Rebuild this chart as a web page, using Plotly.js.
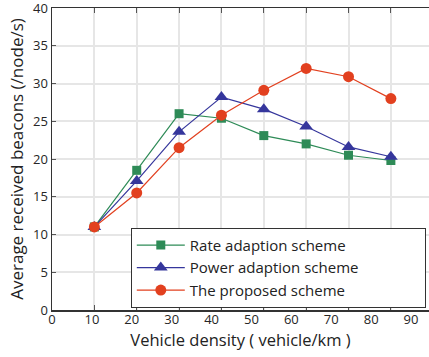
<!DOCTYPE html>
<html><head><meta charset="utf-8">
<script src="https://cdn.plot.ly/plotly-3.0.1.min.js"></script>
<style>html,body{margin:0;padding:0;background:#fff}</style>
</head><body>
<div id="chart" style="width:429px;height:357px"></div>
<script>
const density = [10, 20, 30, 40, 50, 60, 70, 80];
const rateAdaption = [11.0, 18.5, 26.0, 25.4, 23.1, 22.0, 20.5, 19.8];
const powerAdaption = [11.0, 17.1, 23.6, 28.2, 26.6, 24.3, 21.6, 20.3];
const proposed = [11.0, 15.5, 21.5, 25.8, 29.1, 32.0, 30.9, 28.0];
const seriesNames = ['Rate adaption scheme', 'Power adaption scheme', 'The proposed scheme'];
const xLabelValues = [0, 10, 20, 30, 40, 50, 60, 70, 80, 90];
const yTicks = [0, 5, 10, 15, 20, 25, 30, 35, 40];

const font = 'Open Sans, Noto Sans, DejaVu Sans, sans-serif';
function tr(y, name, color, symbol, size) {
  return {x: density, y: y, name: name, type: 'scatter', mode: 'lines+markers',
    line: {color: color, width: 1.2}, marker: {color: color, symbol: symbol, size: size}};
}
const data = [
  tr(rateAdaption, seriesNames[0], '#2e8b57', 'square', 9),
  tr(powerAdaption, seriesNames[1], '#35369c', 'triangle-up', 12),
  tr(proposed, seriesNames[2], '#e2401f', 'circle', 11),
  {x: [], y: [], xaxis: 'x2', yaxis: 'y', type: 'scatter', mode: 'markers', showlegend: false, hoverinfo: 'skip'}
];
const layout = {
  width: 429, height: 357,
  margin: {l: 52, r: 0, t: 8, b: 47},
  paper_bgcolor: '#fff', plot_bgcolor: '#fff',
  font: {family: font, color: '#262626', size: 13},
  showlegend: true,
  legend: {x: 0.209, y: 0.272, xanchor: 'left', yanchor: 'top', orientation: 'h',
    bgcolor: '#fff', bordercolor: '#333', borderwidth: 1,
    font: {family: font, size: 15, color: '#222'}, itemwidth: 48,
    entrywidthmode: 'pixels', entrywidth: 230, tracegroupgap: 0},
  xaxis: {range: [0, 89], tickvals: density, showticklabels: false,
    showgrid: true, gridcolor: '#e6e6e6', gridwidth: 2,
    ticks: 'inside', ticklen: 5, tickcolor: '#555',
    showline: true, linecolor: '#333', linewidth: 1.5, mirror: 'ticks', zeroline: false},
  xaxis2: {overlaying: 'x', anchor: 'y', side: 'bottom', range: [0, 94.5],
    tickvals: xLabelValues, showgrid: false, ticks: '', showline: false, zeroline: false,
    tickfont: {size: 13, color: '#262626'}, ticklabeloverflow: 'allow',
    title: {text: 'Vehicle density ( vehicle/km )', font: {size: 16.5, color: '#222'}, standoff: 6}},
  yaxis: {range: [0, 40], tickvals: yTicks, showgrid: true, gridcolor: '#e6e6e6', gridwidth: 2,
    ticks: 'inside', ticklen: 4, tickcolor: '#555',
    showline: true, linecolor: '#333', linewidth: 1.5, zeroline: false,
    tickfont: {size: 13, color: '#262626'}, ticklabeloverflow: 'allow',
    title: {text: 'Average received beacons (/node/s)', font: {size: 17, color: '#222'}, standoff: 5}}
};
Plotly.newPlot('chart', data, layout, {displayModeBar: false, staticPlot: true});
</script>
</body></html>
